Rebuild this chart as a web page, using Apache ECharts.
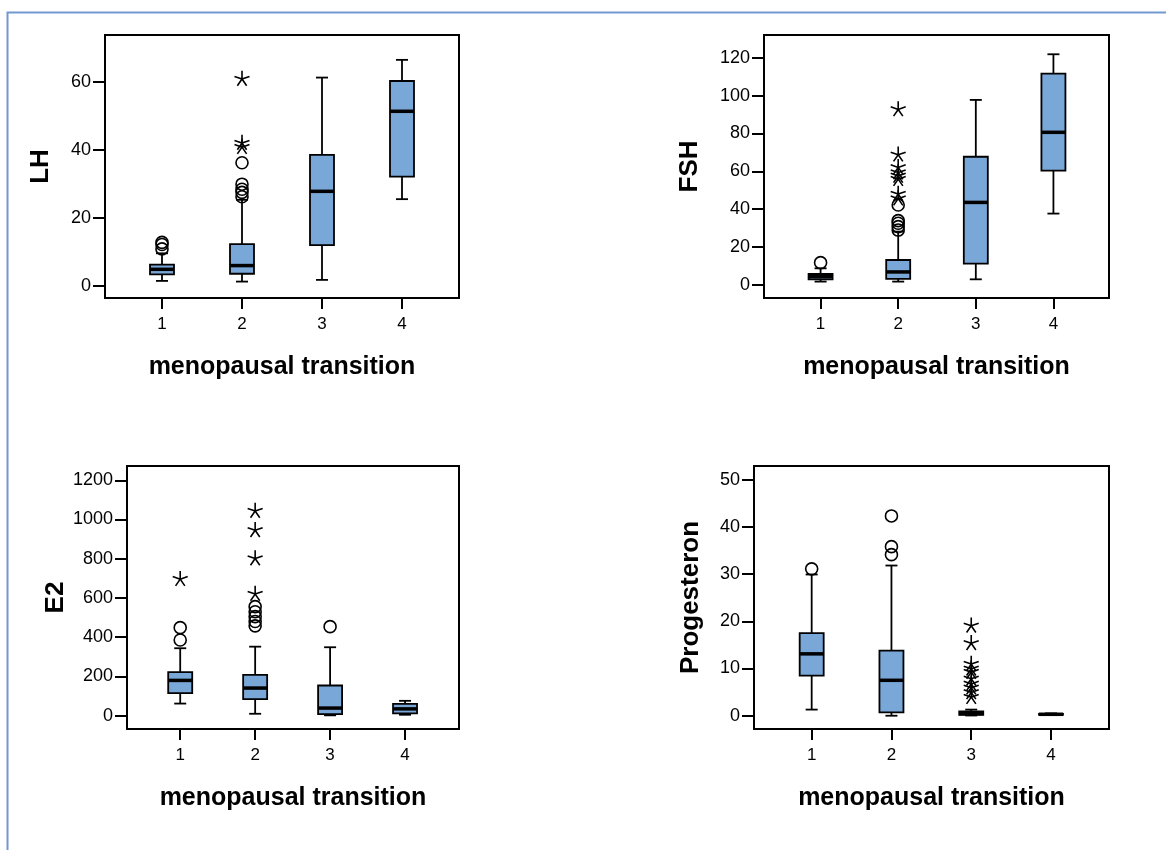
<!DOCTYPE html>
<html>
<head>
<meta charset="utf-8">
<script src="https://cdn.jsdelivr.net/npm/echarts@6/dist/echarts.min.js"></script>
<style>
html,body{margin:0;padding:0;background:#fff;}
#chart{width:1166px;height:850px;}
</style>
</head>
<body>
<div id="chart"></div>
<script>
// ---- data ----
const categories = [1, 2, 3, 4];
const xTitle = 'menopausal transition';

// [min whisker, Q1, median, Q3, max whisker] per category
const lhBox = [[1.5, 3.4, 4.9, 6.3, 9.6], [1.3, 3.6, 6.0, 12.3, 25.3], [1.8, 12.0, 27.8, 38.5, 61.2], [25.5, 32.1, 51.3, 60.2, 66.4]];
const lhCircles = [[1, 10.9], [1, 12.2], [1, 12.8], [2, 26.2], [2, 27.5], [2, 28.4], [2, 29.9], [2, 36.2]];
const lhStars = [[2, 41.0], [2, 42.2], [2, 61.0]];
const lhTicks = [0, 20, 40, 60];

const fshBox = [[1.8, 3.0, 4.4, 5.8, 8.8], [1.8, 3.2, 6.9, 13.2, 28.2], [3.0, 11.3, 43.6, 67.7, 97.7], [37.7, 60.4, 80.6, 111.6, 121.8]];
const fshCircles = [[1, 11.8], [2, 29.0], [2, 30.8], [2, 32.6], [2, 34.0], [2, 42.2]];
const fshStars = [[2, 46.0], [2, 48.4], [2, 56.3], [2, 58.0], [2, 59.8], [2, 62.5], [2, 69.2], [2, 93.1]];
const fshTicks = [0, 20, 40, 60, 80, 100, 120];

const e2Box = [[62, 115, 180, 222, 344], [10, 85, 141, 208, 352], [2, 8, 39, 154, 349], [5, 12, 35, 60, 76]];
const e2Circles = [[1, 386], [1, 449], [2, 458], [2, 480], [2, 505], [2, 530], [2, 556], [3, 454]];
const e2Stars = [[1, 700], [2, 624], [2, 805], [2, 949], [2, 1047]];
const e2Ticks = [0, 200, 400, 600, 800, 1000, 1200];

const progBox = [[1.3, 8.5, 13.1, 17.5, 29.9], [0.0, 0.7, 7.5, 13.8, 31.8], [0.05, 0.2, 0.45, 0.9, 1.3], [0.15, 0.2, 0.3, 0.4, 0.5]];
const progCircles = [[1, 31.1], [2, 34.1], [2, 35.8], [2, 42.3]];
const progStars = [[3, 4.1], [3, 5.1], [3, 6.1], [3, 6.9], [3, 8.0], [3, 9.4], [3, 10.1], [3, 11.1], [3, 15.5], [3, 19.2]];
const progTicks = [0, 10, 20, 30, 40, 50];

// ---- layout / style ----
const FONT = '"Liberation Sans", Arial, sans-serif';
const BOX_FILL = '#79a7d7';
const STAR = 'path://M0,0L0,-10M0,0L9.51,-3.09M0,0L5.88,8.09M0,0L-5.88,8.09M0,0L-9.51,-3.09';

const panels = [
  { name: 'LH', box: lhBox, circles: lhCircles, stars: lhStars, ticks: lhTicks,
    grid: { left: 105, top: 35, width: 354, height: 263 }, y: [-3.52, 73.7], x: [0.2875, 4.7125], nameGap: 51 },
  { name: 'FSH', box: fshBox, circles: fshCircles, stars: fshStars, ticks: fshTicks,
    grid: { left: 764, top: 35, width: 345, height: 263 }, y: [-6.86, 131.97], x: [0.271, 4.716], nameGap: 61 },
  { name: 'E2', box: e2Box, circles: e2Circles, stars: e2Stars, ticks: e2Ticks,
    grid: { left: 127, top: 466, width: 332, height: 263 }, y: [-67.6, 1272.7], x: [0.29, 4.72], nameGap: 52 },
  { name: 'Progesteron', box: progBox, circles: progCircles, stars: progStars, ticks: progTicks,
    grid: { left: 754, top: 466, width: 355, height: 263 }, y: [-2.81, 52.87], x: [0.277, 4.727], nameGap: 50 }
];

const grid = [], xAxis = [], yAxis = [], series = [];
const plain = function (v) { return String(v); };

panels.forEach(function (p, i) {
  grid.push(Object.assign({ show: true, borderColor: '#000', borderWidth: 2, backgroundColor: 'transparent', containLabel: false, outerBoundsMode: 'none' }, p.grid));
  xAxis.push({
    type: 'value', gridIndex: i, min: p.x[0], max: p.x[1],
    axisLine: { show: false, onZero: false }, splitLine: { show: false },
    axisTick: { show: true, inside: false, length: 11, lineStyle: { color: '#000', width: 2 }, customValues: categories },
    axisLabel: { customValues: categories, formatter: plain, fontSize: 17, color: '#000', fontFamily: FONT, margin: 18 },
    name: xTitle, nameLocation: 'middle', nameGap: 57,
    nameTextStyle: { fontSize: 25, fontWeight: 'bold', color: '#000', fontFamily: FONT }
  });
  yAxis.push({
    type: 'value', gridIndex: i, min: p.y[0], max: p.y[1],
    axisLine: { show: false, onZero: false }, splitLine: { show: false },
    axisTick: { show: true, inside: false, length: 12, lineStyle: { color: '#000', width: 2 }, customValues: p.ticks },
    axisLabel: { customValues: p.ticks, formatter: plain, fontSize: 18, color: '#000', fontFamily: FONT, margin: 14 },
    name: p.name, nameLocation: 'middle', nameGap: p.nameGap, nameRotate: 90,
    nameTextStyle: { fontSize: 26, fontWeight: 'bold', color: '#000', fontFamily: FONT }
  });
  series.push({
    type: 'custom', xAxisIndex: i, yAxisIndex: i, clip: false, silent: true,
    data: p.box.map(function (b, k) { return [categories[k]].concat(b); }),
    encode: { x: 0, y: [1, 2, 3, 4, 5] },
    renderItem: function (params, api) {
      const x = api.value(0);
      const c = function (v) { return api.coord([x, v]); };
      const pMin = c(api.value(1)), pQ1 = c(api.value(2)), pMed = c(api.value(3)), pQ3 = c(api.value(4)), pMax = c(api.value(5));
      const cx = pMin[0], hw = 12, cw = 6;
      const ls = { stroke: '#000', lineWidth: 1.8 };
      return {
        type: 'group',
        children: [
          { type: 'line', shape: { x1: cx, y1: pQ1[1], x2: cx, y2: pMin[1] }, style: ls },
          { type: 'line', shape: { x1: cx, y1: pQ3[1], x2: cx, y2: pMax[1] }, style: ls },
          { type: 'line', shape: { x1: cx - cw, y1: pMin[1], x2: cx + cw, y2: pMin[1] }, style: ls },
          { type: 'line', shape: { x1: cx - cw, y1: pMax[1], x2: cx + cw, y2: pMax[1] }, style: ls },
          { type: 'rect', shape: { x: cx - hw, y: pQ3[1], width: 2 * hw, height: pQ1[1] - pQ3[1] }, style: { fill: BOX_FILL, stroke: '#000', lineWidth: 1.8 } },
          { type: 'line', shape: { x1: cx - hw, y1: pMed[1], x2: cx + hw, y2: pMed[1] }, style: { stroke: '#000', lineWidth: 3.5 } }
        ]
      };
    }
  });
  series.push({
    type: 'scatter', xAxisIndex: i, yAxisIndex: i, data: p.circles, silent: true,
    symbol: 'circle', symbolSize: 12,
    itemStyle: { color: 'rgba(0,0,0,0)', borderColor: '#000', borderWidth: 1.6, opacity: 1 }
  });
  series.push({
    type: 'scatter', xAxisIndex: i, yAxisIndex: i, data: p.stars, silent: true,
    symbol: STAR, symbolSize: 15,
    itemStyle: { color: 'rgba(0,0,0,0)', borderColor: '#000', borderWidth: 1.6, opacity: 1 }
  });
});

const chart = echarts.init(document.getElementById('chart'), null, { renderer: 'canvas' });
chart.setOption({
  backgroundColor: '#fff',
  animation: false,
  grid: grid, xAxis: xAxis, yAxis: yAxis, series: series,
  graphic: [{
    type: 'rect', left: 5, top: 10, silent: true,
    shape: { x: 0, y: 0, width: 1180, height: 860 },
    style: { fill: 'none', stroke: '#7397cf', lineWidth: 2 }
  }]
});
</script>
</body>
</html>
